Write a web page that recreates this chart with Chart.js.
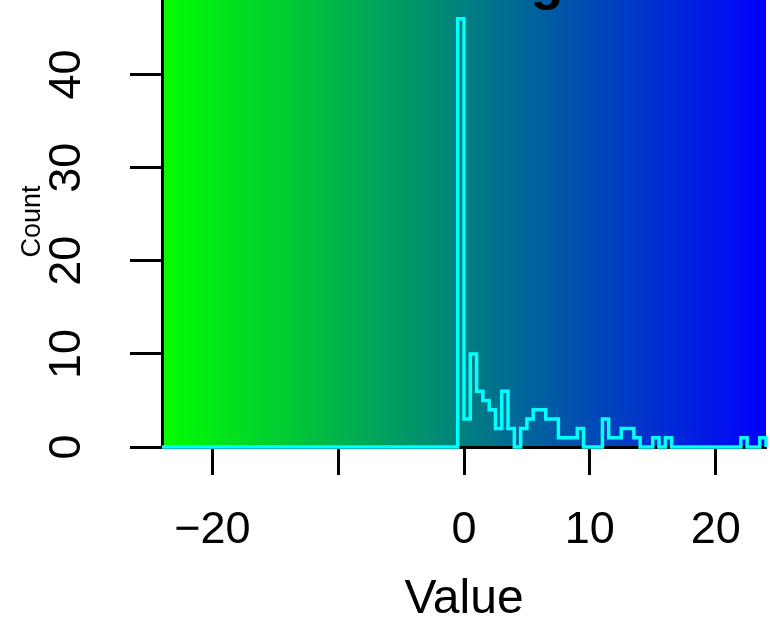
<!DOCTYPE html>
<html><head><meta charset="utf-8">
<script src="https://cdn.jsdelivr.net/npm/chart.js@4/dist/chart.umd.min.js"></script>
<style>html,body{margin:0;padding:0;background:#fff;overflow:hidden}canvas{display:block}</style>
</head><body>
<canvas id="c" width="770" height="629"></canvas>
<script>
// Histogram bin edges (width 0.5) and counts
const binEdges = [-24,-23.5,-23,-22.5,-22,-21.5,-21,-20.5,-20,-19.5,-19,-18.5,-18,-17.5,-17,-16.5,-16,-15.5,-15,-14.5,-14,-13.5,-13,-12.5,-12,-11.5,-11,-10.5,-10,-9.5,-9,-8.5,-8,-7.5,-7,-6.5,-6,-5.5,-5,-4.5,-4,-3.5,-3,-2.5,-2,-1.5,-1,-0.5,0,0.5,1,1.5,2,2.5,3,3.5,4,4.5,5,5.5,6,6.5,7,7.5,8,8.5,9,9.5,10,10.5,11,11.5,12,12.5,13,13.5,14,14.5,15,15.5,16,16.5,17,17.5,18,18.5,19,19.5,20,20.5,21,21.5,22,22.5,23,23.5,24];
const counts = [0,0,0,0,0,0,0,0,0,0, 0,0,0,0,0,0,0,0,0,0, 0,0,0,0,0,0,0,0,0,0, 0,0,0,0,0,0,0,0,0,0, 0,0,0,0,0,0,0,
  46,3,10,6,5,4,2,6,2,0,
  2,3,4,4,3,3,1,1,1,2,
  0,0,0,3,1,1,2,2,1,0,
  0,1,0,1,
  0,0,0,0,0,0,0,0,0,0,0,
  1,0,0,1];
const xTickValues = [-20,-10,0,10,20];
const xTickLabels = ['\u221220','','0','10','20'];
const yTickValues = [0,10,20,30,40];
const yTickLabels = ['0','10','20','30','40'];
const xTitle = 'Value';
const yTitle = 'Count';
const mainTitle = 'g';

const points = counts.map((c,i)=>({x:binEdges[i], y:c}));
points.push({x: binEdges[binEdges.length-1], y: 0});

const FONT = '"Liberation Sans", Arial, Helvetica, sans-serif';

const bgPlugin = {
  id:'bg',
  beforeDraw(chart){
    const {ctx, chartArea:a} = chart;
    ctx.save();
    ctx.fillStyle='#fff'; ctx.fillRect(0,0,chart.width,chart.height);
    const g = ctx.createLinearGradient(a.left,0,a.right,0);
    g.addColorStop(0,'#00ff00'); g.addColorStop(1,'#0000ff');
    ctx.fillStyle=g; ctx.fillRect(a.left,a.top,a.right-a.left,a.bottom-a.top);
    ctx.restore();
  }
};

const labelPlugin = {
  id:'labels',
  afterDraw(chart){
    const ctx=chart.ctx, xs=chart.scales.x, ys=chart.scales.y, a=chart.chartArea;
    ctx.save(); ctx.fillStyle='#000';
    ctx.font='45px '+FONT; ctx.textAlign='center'; ctx.textBaseline='alphabetic';
    xTickValues.forEach((v,i)=>{ if(xTickLabels[i]) ctx.fillText(xTickLabels[i], xs.getPixelForValue(v), 543); });
    yTickValues.forEach((v,i)=>{
      ctx.save(); ctx.translate(80, ys.getPixelForValue(v)); ctx.rotate(-Math.PI/2);
      ctx.fillText(yTickLabels[i],0,0); ctx.restore();
    });
    ctx.font='48px '+FONT;
    ctx.fillText(xTitle,(a.left+a.right)/2,613);
    ctx.save(); ctx.font='27px '+FONT; ctx.translate(40,(a.top+a.bottom)/2 - 2); ctx.rotate(-Math.PI/2);
    ctx.fillText(yTitle,0,0); ctx.restore();
    ctx.font='bold 54px '+FONT;
    ctx.fillText(mainTitle,547,-1);
    ctx.restore();
  }
};

new Chart(document.getElementById('c'), {
  type:'line',
  data:{datasets:[{data:points, stepped:'before', borderColor:'#00ffff', borderWidth:3.5,
    pointRadius:0, fill:false, clip:false, tension:0}]},
  options:{
    responsive:false, animation:false, events:[],
    layout:{padding:{top:0,right:4,left:0,bottom:0}},
    plugins:{legend:{display:false}, tooltip:{enabled:false}, title:{display:false}},
    scales:{
      x:{type:'linear', min:-24, max:24,
        afterBuildTicks(s){ s.ticks = xTickValues.map(v=>({value:v})); },
        afterFit(s){ s.height = 182; },
        ticks:{display:false},
        grid:{drawOnChartArea:false, drawTicks:true, tickLength:28, tickColor:'#000', tickWidth:3, color:'#000'},
        border:{display:true, color:'#000', width:3}},
      y:{type:'linear', min:0, max:48,
        afterBuildTicks(s){ s.ticks = yTickValues.map(v=>({value:v})); },
        afterFit(s){ s.width = 162; },
        ticks:{display:false},
        grid:{drawOnChartArea:false, drawTicks:true, tickLength:32, tickColor:'#000', tickWidth:3, color:'#000'},
        border:{display:true, color:'#000', width:3}}
    }
  },
  plugins:[bgPlugin, labelPlugin]
});
</script>
</body></html>
